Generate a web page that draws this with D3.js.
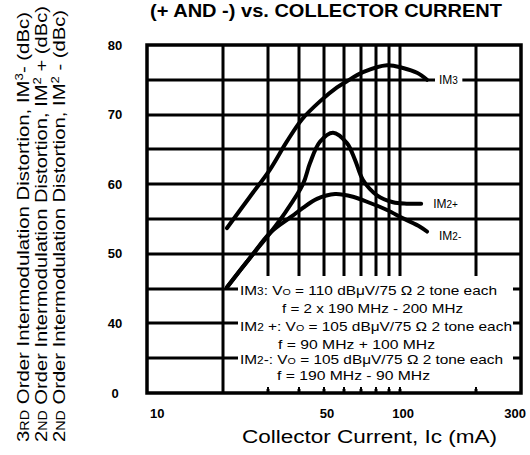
<!DOCTYPE html>
<html>
<head>
<meta charset="utf-8">
<script src="https://cdn.jsdelivr.net/npm/d3@7"></script>
<style>
  body { margin: 0; background: #fff; }
  text { font-family: 'Liberation Sans', Arial, Helvetica, sans-serif; fill: #000; }
</style>
</head>
<body>
<svg id="chart" width="530" height="455"></svg>
<script>
// values
var currentIM3 = [20.7, 25.5, 30.6, 35.5, 40.9, 48.2, 56.3, 61.6, 71.3, 88.7, 102.6, 116.5, 127.6];
var valuesIM3 = [53.7, 58.2, 62.1, 66.0, 69.3, 71.9, 73.9, 74.8, 76.1, 77.1, 76.7, 76.0, 75.0];

var currentIM2p = [20.7, 25.5, 30.8, 34.8, 41.3, 44.0, 48.2, 54.3, 61.6, 66.3, 71.3, 81, 93.7, 106, 121];
var valuesIM2p = [45.2, 49.4, 53.1, 55.7, 60.0, 63.0, 66.1, 67.4, 65.9, 63.5, 60.6, 58.4, 57.4, 57.2, 57.2];

var currentIM2m = [20.7, 25.5, 30.8, 37.4, 41.3, 46.9, 55.3, 65.1, 76, 88.7, 102.6, 119.7, 127.6];
var valuesIM2m = [45.2, 49.4, 53.1, 55.4, 56.6, 57.9, 58.6, 58.2, 57.3, 56.3, 55.1, 53.9, 53.2];

var xTicks = [10, 50, 100, 300];
var xGrid = [20, 30, 40, 50, 60, 70, 80, 90, 100, 200];
var yTicks = [30, 40, 50, 60, 70, 80];
var yTickLabels = ['0', '40', '50', '60', '70', '80'];
var yGrid = [35, 40, 45, 50, 55, 60, 65, 70, 75];

var titleText = '(+ AND -) vs. COLLECTOR CURRENT';
var xTitle = 'Collector Current, Ic (mA)';

var svg = d3.select('#chart');
var plotLeft = 147, plotRight = 521, plotTop = 45, plotBottom = 393;

var x = d3.scaleLog().domain([10, 300]).range([plotLeft, plotRight]);
var y = d3.scaleLinear().domain([30, 80]).range([plotBottom, plotTop]);

// grid as one path, frame drawn on top
var gridPath = d3.path();
yGrid.forEach(function(v) {
  gridPath.moveTo(plotLeft, Math.round(y(v)));
  gridPath.lineTo(plotRight, Math.round(y(v)));
});
xGrid.forEach(function(v) {
  gridPath.moveTo(Math.round(x(v)), plotTop);
  gridPath.lineTo(Math.round(x(v)), plotBottom);
});
svg.append('path')
  .attr('d', gridPath.toString())
  .attr('fill', 'none')
  .attr('stroke', '#000')
  .attr('stroke-width', 3);

svg.append('path')
  .attr('d', `M${plotLeft},${plotTop}H${plotRight}V${plotBottom}H${plotLeft}Z`)
  .attr('fill', 'none')
  .attr('stroke', '#000')
  .attr('stroke-width', 3.5);

// white area behind the test conditions
var box = {x0: 238, x1: 513, y0: 276, y1: 389};
svg.append('rect')
  .attr('x', box.x0).attr('y', box.y0)
  .attr('width', box.x1 - box.x0).attr('height', box.y1 - box.y0)
  .attr('fill', '#fff');

var stubs = d3.path();
xGrid.filter(d => x(d) > box.x0 && x(d) < box.x1).forEach(function(v) {
  stubs.moveTo(Math.round(x(v)), plotBottom - 6);
  stubs.lineTo(Math.round(x(v)), plotBottom);
});
svg.append('path')
  .attr('d', stubs.toString())
  .attr('stroke', '#000')
  .attr('stroke-width', 2);

// axis labels
svg.append('g')
  .selectAll('text')
  .data(yTicks)
  .enter()
  .append('text')
  .attr('x', 115)
  .attr('y', d => y(d))
  .attr('dy', '0.36em')
  .attr('text-anchor', 'middle')
  .style('font-size', '13px')
  .style('font-weight', 'bold')
  .text((d, i) => yTickLabels[i]);

svg.append('g')
  .selectAll('text')
  .data(xTicks)
  .enter()
  .append('text')
  .attr('x', d => x(d))
  .attr('y', 418)
  .attr('dx', (d, i) => i == xTicks.length - 1 ? 5 : 3)
  .attr('text-anchor', (d, i) => i == 0 ? 'start' : i == xTicks.length - 1 ? 'end' : 'middle')
  .style('font-size', '13px')
  .style('font-weight', 'bold')
  .text(d => d);

svg.append('text')
  .attr('x', 150).attr('y', 17)
  .attr('textLength', 352)
  .attr('lengthAdjust', 'spacingAndGlyphs')
  .style('font-size', '18px')
  .style('font-weight', 'bold')
  .text(titleText);

svg.append('text')
  .attr('x', 242).attr('y', 443)
  .attr('textLength', 255)
  .attr('lengthAdjust', 'spacingAndGlyphs')
  .style('font-size', '18px')
  .text(xTitle);

// rotated y titles, built from pieces so the small caps and indices come out
var yTitles = [
  [['3', 17], ['RD', 12], [' Order Intermodulation Distortion, IM', 17], ['3', 11, -6], ['- (dBc)', 17]],
  [['2', 17], ['ND', 12], [' Order Intermodulation Distortion, IM', 17], ['2', 11, -6], [' + (dBc)', 17]],
  [['2', 17], ['ND', 12], [' Order Intermodulation Distortion, IM', 17], ['2', 11, -6], [' - (dBc)', 17]],
];
var titleX = [29, 47, 65];
var titleLen = [430, 436, 432];
yTitles.forEach(function(parts, i) {
  var t = svg.append('text')
    .attr('transform', `translate(${titleX[i]}, 442) rotate(-90)`)
    .attr('textLength', titleLen[i])
    .attr('lengthAdjust', 'spacingAndGlyphs');
  var shift = 0;
  parts.forEach(function(p) {
    var dy = (p[2] || 0) - shift;
    shift = p[2] || 0;
    t.append('tspan')
      .attr('dy', dy)
      .style('font-size', p[1] + 'px')
      .text(p[0]);
  });
});

// curves
var line = d3.line()
  .x(d => x(d[0]))
  .y(d => y(d[1]))
  .curve(d3.curveCatmullRom.alpha(0.5));

var series = [
  {name: 'IM', sub: '3', xs: currentIM3, ys: valuesIM3, dy: 4},
  {name: 'IM', sub: '2+', xs: currentIM2p, ys: valuesIM2p, dy: 4},
  {name: 'IM', sub: '2-', xs: currentIM2m, ys: valuesIM2m, dy: 8},
];

series.forEach(function(s) {
  var pts = s.xs.map((c, i) => [c, s.ys[i]]);
  svg.append('path')
    .attr('d', line(pts))
    .attr('fill', 'none')
    .attr('stroke', '#000')
    .attr('stroke-width', 4)
    .attr('stroke-linecap', 'round');

  var last = pts[pts.length - 1];
  var lx = x(last[0]) + 12;
  var ly = y(last[1]) + s.dy;
  var bg = svg.append('rect').attr('fill', '#fff');
  var lab = svg.append('text')
    .attr('x', lx).attr('y', ly)
    .style('font-size', '12px');
  lab.append('tspan').text(s.name);
  lab.append('tspan').style('font-size', '10px').text(s.sub);
  var bb = lab.node().getBBox();
  bg.attr('x', bb.x - 4).attr('y', bb.y + 2)
    .attr('width', bb.width + 8).attr('height', Math.max(bb.height - 4, 0));
});

// test conditions
var notes = [
  {x: 240, y: 295, w: 257, parts: [['IM', 13], ['3', 10], [': V', 13], ['O', 9], [' = 110 dB\u03bcV/75 \u03a9 2 tone each', 13]]},
  {x: 282, y: 313, w: 181, parts: [['f = 2 x 190 MHz - 200 MHz', 13]]},
  {x: 240, y: 331, w: 272, parts: [['IM', 13], ['2', 10], [' +: V', 13], ['O', 9], [' = 105 dB\u03bcV/75 \u03a9 2 tone each', 13]]},
  {x: 278, y: 349, w: 157, parts: [['f = 90 MHz + 100 MHz', 13]]},
  {x: 240, y: 364, w: 263, parts: [['IM', 13], ['2', 10], ['-: V', 13], ['O', 9], [' = 105 dB\u03bcV/75 \u03a9 2 tone each', 13]]},
  {x: 277, y: 380, w: 153, parts: [['f = 190 MHz - 90 MHz', 13]]},
];
notes.forEach(function(n) {
  var t = svg.append('text').attr('x', n.x).attr('y', n.y)
    .attr('textLength', n.w)
    .attr('lengthAdjust', 'spacingAndGlyphs');
  n.parts.forEach(function(p) {
    t.append('tspan').style('font-size', p[1] + 'px').text(p[0]);
  });
});
</script>
</body>
</html>
